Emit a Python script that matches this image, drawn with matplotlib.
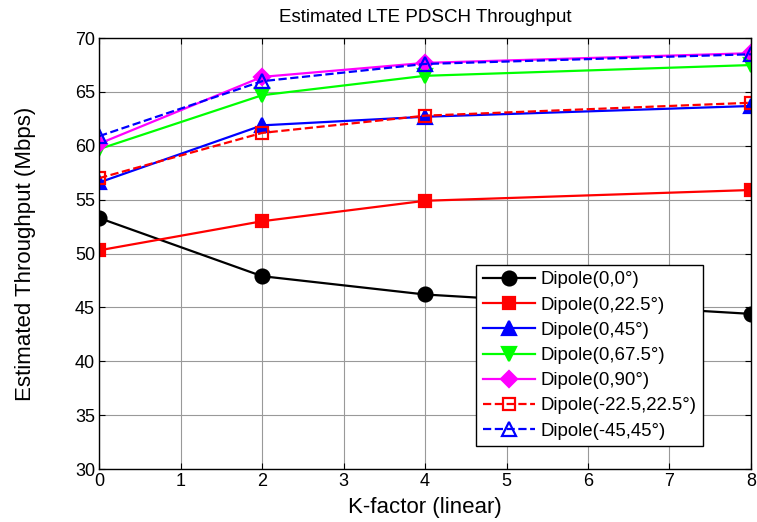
import matplotlib
matplotlib.use('Agg')
import matplotlib.pyplot as plt

plt.rcParams['font.family'] = ['Liberation Sans', 'DejaVu Sans']

k_factor = [0, 2, 4, 8]
labels = ['Dipole(0,0°)', 'Dipole(0,22.5°)', 'Dipole(0,45°)', 'Dipole(0,67.5°)',
          'Dipole(0,90°)', 'Dipole(-22.5,22.5°)', 'Dipole(-45,45°)']
dip_0_0 = [53.3, 47.9, 46.2, 44.4]
dip_0_225 = [50.3, 53.0, 54.9, 55.9]
dip_0_45 = [56.6, 61.9, 62.7, 63.7]
dip_0_675 = [59.7, 64.7, 66.5, 67.5]
dip_0_90 = [60.2, 66.4, 67.7, 68.6]
dip_m225_225 = [57.0, 61.2, 62.8, 64.0]
dip_m45_45 = [60.9, 66.0, 67.6, 68.5]

series = [dip_0_0, dip_0_225, dip_0_45, dip_0_675, dip_0_90, dip_m225_225, dip_m45_45]
styles = [
    dict(color='black', marker='o', ls='-', mfc='black', ms=10),
    dict(color='red', marker='s', ls='-', mfc='red', ms=9),
    dict(color='blue', marker='^', ls='-', mfc='blue', ms=10),
    dict(color='#00ff00', marker='v', ls='-', mfc='#00ff00', ms=10),
    dict(color='magenta', marker='D', ls='-', mfc='magenta', ms=8),
    dict(color='red', marker='s', ls='--', mfc='none', ms=9),
    dict(color='blue', marker='^', ls='--', mfc='none', ms=10),
]

fig = plt.figure(figsize=(7.57, 5.22), dpi=100)
ax = fig.add_axes([0.131, 0.1015, 0.861, 0.8255])

for vals, lab, st in zip(series, labels, styles):
    ax.plot(k_factor, vals, label=lab, lw=1.6, mew=1.6, **st)

ax.set_xlim(0, 8)
ax.set_ylim(30, 70)
ax.set_xticks(range(0, 9))
ax.set_yticks(range(30, 71, 5))
ax.grid(True, color='#999999', lw=0.8)
ax.tick_params(direction='in', top=True, right=True, labelsize=13, length=4, pad=3)
for sp in ax.spines.values():
    sp.set_linewidth(1.0)

fig.text(425 / 757, 1 - 18 / 522, 'Estimated LTE PDSCH Throughput', fontsize=13.5,
         ha='center', va='center')
ax.set_xlabel('K-factor (linear)', fontsize=16, va='center')
ax.set_ylabel('Estimated Throughput (Mbps)', fontsize=16, va='center')
ax.xaxis.set_label_coords(0.5, -0.09)
ax.yaxis.set_label_coords(-0.113, 0.5)

leg = ax.legend(loc='lower right', bbox_to_anchor=(0.926, 0.053), fontsize=13.4,
                fancybox=False, framealpha=1, edgecolor='black',
                handlelength=2.8, borderpad=0.35, labelspacing=0.44, handletextpad=0.3,
                borderaxespad=0)
leg.get_frame().set_linewidth(1.0)

fig.savefig('out.png', dpi=100)
